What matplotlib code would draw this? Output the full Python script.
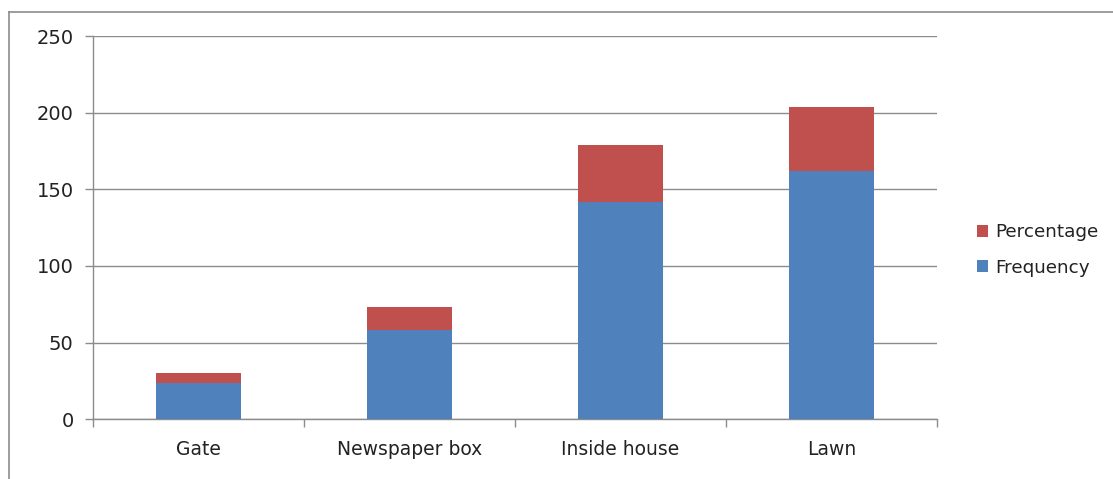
import matplotlib
matplotlib.use('Agg')
import matplotlib.pyplot as plt
import numpy as np
from matplotlib.lines import Line2D

# chart data
categories = ['Gate', 'Newspaper box', 'Inside house', 'Lawn']
frequency = [24, 58, 142, 162]
percentage = [6.2, 15.0, 36.8, 42.0]
y_ticks = [0, 50, 100, 150, 200, 250]

blue = '#4F81BD'
red = '#C0504D'
grid_col = '#8C8C8C'

plt.rcParams['font.family'] = ['DejaVu Sans']

fig = plt.figure(figsize=(11.13, 4.79), dpi=100)
ax = fig.add_axes([93 / 1113, 1 - 419.3 / 479, (937 - 93) / 1113, (419.3 - 36) / 479])

x = np.arange(len(categories))
ax.bar(x, frequency, width=0.4, color=blue, label='Frequency', zorder=3)
ax.bar(x, percentage, width=0.4, bottom=frequency, color=red, label='Percentage', zorder=3)

ax.set_xlim(-0.5, len(categories) - 0.5)
ax.set_ylim(0, 250)
ax.set_yticks(y_ticks)
ax.set_yticklabels([str(v) for v in y_ticks], fontsize=14, color='#222222')
ax.yaxis.grid(True, color=grid_col, linewidth=1, zorder=0)

# category labels at centers, tick marks at boundaries
ax.set_xticks(x)
ax.set_xticklabels(categories, fontsize=13.5, color='#222222')
ax.tick_params(axis='x', which='major', length=0, pad=15)
ax.set_xticks(np.arange(len(categories) + 1) - 0.5, minor=True)
ax.tick_params(axis='x', which='minor', length=6, color=grid_col, width=1)
ax.tick_params(axis='y', length=6, color=grid_col, width=1, pad=8)

for s in ['top', 'right']:
    ax.spines[s].set_visible(False)
for s in ['left', 'bottom']:
    ax.spines[s].set_color(grid_col)
    ax.spines[s].set_linewidth(1)

handles, labels = ax.get_legend_handles_labels()
ax.legend(handles[::-1], labels[::-1], loc='center left', bbox_to_anchor=(960 / 1113, 1 - 250 / 479),
          bbox_transform=fig.transFigure, frameon=False, fontsize=13.2, handlelength=0.6,
          handleheight=0.6, handletextpad=0.4, labelspacing=0.95, labelcolor='#222222')

# outer chart frame (left and top edges visible)
fig.add_artist(Line2D([9 / 1113, 9 / 1113], [0, 1 - 12 / 479], color='#8C8C8C', linewidth=1.2,
                      transform=fig.transFigure))
fig.add_artist(Line2D([9 / 1113, 1], [1 - 12 / 479, 1 - 12 / 479], color='#8C8C8C', linewidth=1.2,
                      transform=fig.transFigure))

fig.savefig('out.png', dpi=100)
